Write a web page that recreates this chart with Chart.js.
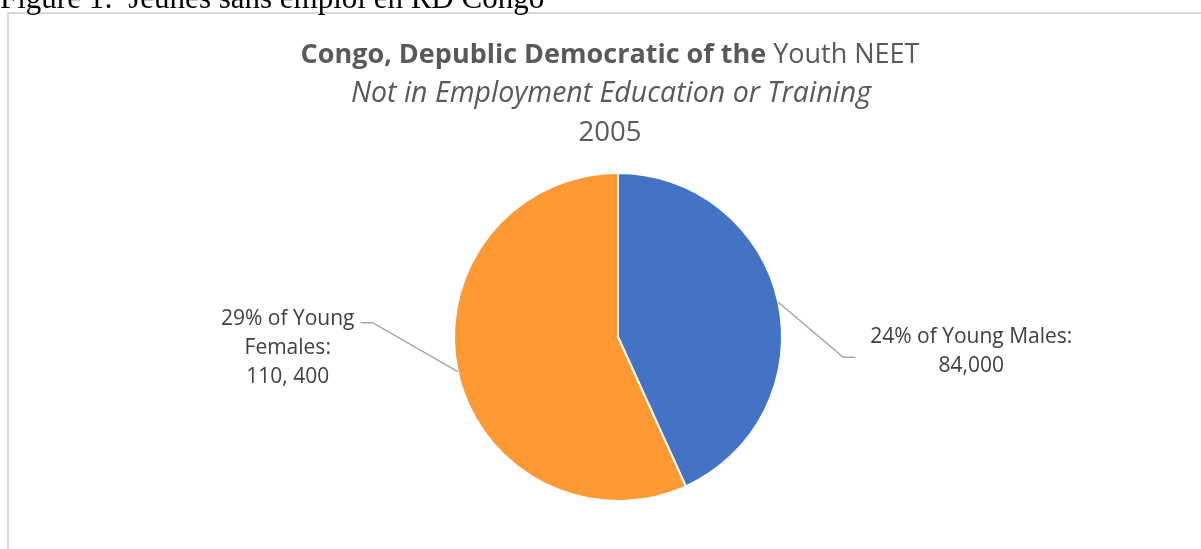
<!DOCTYPE html>
<html><head><meta charset="utf-8">
<script src="https://cdn.jsdelivr.net/npm/chart.js@4"></script>
<style>html,body{margin:0;padding:0;background:#fff;overflow:hidden}#wrap{position:absolute;left:0;top:0;width:1201px;height:549px}</style>
</head><body><div id="wrap"><canvas id="c" width="1201" height="549"></canvas></div>
<script>
const categories = ["Young Males", "Young Females"];
const values = [84000, 110400];
const shareLabels = ["24%", "29%"];
const valueLabels = ["84,000", "110, 400"];
const colors = ["#4472C4", "#FF9933"];
const caption = "Figure 1:  Jeunes sans emploi en RD Congo";
const titleBold = "Congo, Depublic Democratic of the";
const titleNormal = "Youth NEET";
const subtitle = "Not in Employment Education or Training";
const yearLabel = "2005";

const FONT = "'Open Sans', Lato, sans-serif";

function wrap(ctx, text, maxW) {
  const words = text.split(' ');
  const lines = [];
  let cur = '';
  for (const w of words) {
    const t = cur ? cur + ' ' + w : w;
    if (cur && ctx.measureText(t).width > maxW) { lines.push(cur); cur = w; } else cur = t;
  }
  if (cur) lines.push(cur);
  return lines;
}

const decor = {
  id: 'decor',
  beforeDraw(chart) {
    const ctx = chart.ctx;
    ctx.save();
    ctx.fillStyle = '#fff';
    ctx.fillRect(0, 0, chart.width, chart.height);
    // frame
    ctx.strokeStyle = '#d9d9d9';
    ctx.lineWidth = 2;
    ctx.beginPath();
    ctx.moveTo(8, 560); ctx.lineTo(8, 13); ctx.lineTo(1210, 13);
    ctx.stroke();
    // caption
    ctx.fillStyle = '#000';
    ctx.font = "31px 'Liberation Serif', 'Times New Roman', serif";
    ctx.textAlign = 'left';
    ctx.textBaseline = 'alphabetic';
    ctx.fillText(caption, 0, 8);
    // title
    const cx = 610;
    ctx.fillStyle = '#595959';
    ctx.textBaseline = 'middle';
    ctx.font = "bold 27px " + FONT;
    const wb = ctx.measureText(titleBold + ' ').width;
    ctx.font = "27px " + FONT;
    const wn = ctx.measureText(titleNormal).width;
    const x0 = cx - (wb + wn) / 2;
    ctx.textAlign = 'left';
    ctx.font = "bold 27px " + FONT;
    ctx.fillText(titleBold, x0, 55);
    ctx.font = "27px " + FONT;
    ctx.fillText(titleNormal, x0 + wb, 55);
    ctx.textAlign = 'center';
    ctx.font = "italic 28.5px " + FONT;
    ctx.fillText(subtitle, 611, 94);
    ctx.font = "27.5px " + FONT;
    ctx.fillText(yearLabel, cx, 133);
    ctx.restore();
  },
  afterDraw(chart) {
    const ctx = chart.ctx;
    const meta = chart.getDatasetMeta(0);
    const cfg = [
      { elbow: [65, 55], tail: 12, dx: 116, dy: -20, maxW: 250 },
      { elbow: [-85, -49], tail: -12, dx: -73, dy: -4, maxW: 160 }
    ];
    ctx.save();
    ctx.font = "21px " + FONT;
    meta.data.forEach((arc, i) => {
      const p = arc.getProps(['x', 'y', 'startAngle', 'endAngle', 'outerRadius'], true);
      const mid = (p.startAngle + p.endAngle) / 2;
      const sx = p.x + Math.cos(mid) * p.outerRadius;
      const sy = p.y + Math.sin(mid) * p.outerRadius;
      const c = cfg[i];
      const ex = sx + c.elbow[0], ey = sy + c.elbow[1];
      const tx = ex + c.tail;
      ctx.strokeStyle = '#a6a6a6';
      ctx.lineWidth = 1.5;
      ctx.beginPath();
      ctx.moveTo(sx, sy); ctx.lineTo(ex, ey); ctx.lineTo(tx, ey);
      ctx.stroke();
      const text = shareLabels[i] + ' of ' + categories[i] + ':';
      const lines = wrap(ctx, text, c.maxW).concat([valueLabels[i]]);
      ctx.fillStyle = '#404040';
      ctx.textAlign = 'center';
      ctx.textBaseline = 'middle';
      lines.forEach((ln, k) => ctx.fillText(ln, tx + c.dx, ey + c.dy + k * 29));
    });
    ctx.restore();
  }
};

new Chart(document.getElementById('c'), {
  type: 'pie',
  data: { labels: categories, datasets: [{ data: values, backgroundColor: colors, borderColor: '#ffffff', borderWidth: 2 }] },
  options: {
    responsive: false,
    animation: false,
    devicePixelRatio: 1,
    layout: { padding: { top: 172, bottom: 47, left: 453, right: 418 } },
    plugins: { legend: { display: false }, tooltip: { enabled: false }, title: { display: false } }
  },
  plugins: [decor]
});
</script>
</body></html>
